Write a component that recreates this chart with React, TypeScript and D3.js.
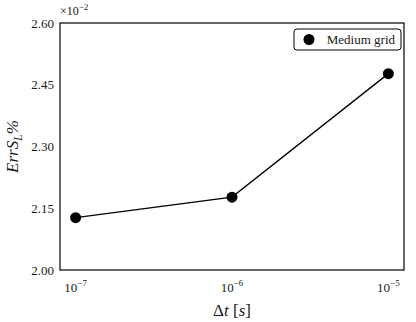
import * as d3 from "d3";

const dtValues = [1e-7, 1e-6, 1e-5];
const errValues = [2.127, 2.177, 2.477];
const yTicks = [2.0, 2.15, 2.3, 2.45, 2.6];
const xTickExps = [-7, -6, -5];
const seriesName = "Medium grid";

const W = 416;
const H = 322;
const M = { left: 60, right: 12, top: 23, bottom: 52 };
const FONT = "Times New Roman";

function T(props: any) {
  return <text fontFamily={FONT} style={{ fontFamily: FONT }} fill="#1a1a1a" {...props} />;
}

export default function App() {
  const iw = W - M.left - M.right;
  const ih = H - M.top - M.bottom;
  const x = d3
    .scaleLog()
    .domain([Math.pow(10, -7.1), Math.pow(10, -4.9)])
    .range([0, iw]);
  const y = d3.scaleLinear().domain([2.0, 2.6]).range([ih, 0]);
  const line = d3
    .line<number>()
    .x((_, i) => x(dtValues[i]))
    .y((d) => y(d));

  return (
    <div style={{ position: "absolute", left: 0, top: 0, fontFamily: FONT }}>
      <svg width={W} height={H} fontFamily={FONT}>
        <rect width={W} height={H} fill="#fff" />
        <g transform={`translate(${M.left},${M.top})`}>
          <path d={line(errValues) ?? ""} fill="none" stroke="#000" strokeWidth={1.3} />
          {errValues.map((v, i) => (
            <circle key={i} cx={x(dtValues[i])} cy={y(v)} r={5.5} fill="#000" />
          ))}
          <rect width={iw} height={ih} fill="none" stroke="#000" strokeWidth={1.2} />

          {yTicks.map((t) => (
            <T key={t} x={-6} y={y(t) + 4.5} textAnchor="end" fontSize={13}>
              {t.toFixed(2)}
            </T>
          ))}
          <T x={0} y={-8} fontSize={12}>
            ×10<tspan dy={-5} fontSize={9}>−2</tspan>
          </T>

          {xTickExps.map((e) => (
            <T key={e} x={x(Math.pow(10, e))} y={ih + 22} textAnchor="middle" fontSize={13}>
              10<tspan dy={-6} fontSize={9}>{`−${-e}`}</tspan>
            </T>
          ))}

          <T x={iw / 2} y={ih + 46} textAnchor="middle" fontSize={17}>
            Δ<tspan fontStyle="italic">t</tspan> [<tspan fontStyle="italic">s</tspan>]
          </T>

          <T
            transform={`translate(${-42},${ih / 2}) rotate(-90)`}
            textAnchor="middle"
            fontSize={17}
            fontStyle="italic"
          >
            ErrS<tspan dy={4} fontSize={12}>L</tspan>
            <tspan dy={-4}>%</tspan>
          </T>

          <g transform={`translate(${iw - 110},6)`}>
            <rect width={107} height={21} rx={3} fill="#fff" stroke="#000" strokeWidth={1} />
            <circle cx={15} cy={10.5} r={5.5} fill="#000" />
            <T x={101} y={15} textAnchor="end" fontSize={13}>
              {seriesName}
            </T>
          </g>
        </g>
      </svg>
    </div>
  );
}
